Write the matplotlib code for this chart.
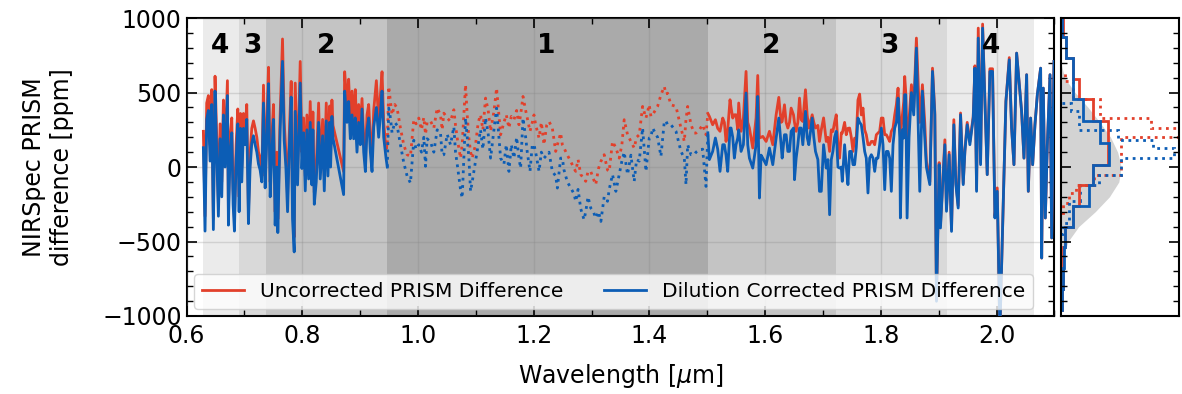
import numpy as np
import matplotlib
matplotlib.use('Agg')
import matplotlib.pyplot as plt
from matplotlib.ticker import MultipleLocator

# wavelength [um] and the two difference spectra [ppm]
wave = [0.6291, 0.6320, 0.6349, 0.6378, 0.6407, 0.6436, 0.6464, 0.6493, 0.6522, 0.6551,
        0.6580, 0.6609, 0.6638, 0.6666, 0.6707, 0.6724, 0.6753, 0.6782, 0.6805, 0.6828,
        0.6857, 0.6886, 0.6909, 0.6932, 0.6955, 0.6984, 0.7013, 0.7041, 0.7070, 0.7099,
        0.7128, 0.7157, 0.7186, 0.7215, 0.7244, 0.7272, 0.7301, 0.7330, 0.7359, 0.7388,
        0.7417, 0.7446, 0.7475, 0.7503, 0.7532, 0.7561, 0.7578, 0.7618, 0.7659, 0.7688,
        0.7717, 0.7746, 0.7774, 0.7809, 0.7832, 0.7861, 0.7879, 0.7919, 0.7965, 0.7994,
        0.8023, 0.8052, 0.8081, 0.8110, 0.8138, 0.8167, 0.8184, 0.8208, 0.8242, 0.8283,
        0.8311, 0.8352, 0.8381, 0.8415, 0.8444, 0.8473, 0.8490, 0.8513, 0.8531, 0.8715,
        0.8733, 0.8773, 0.8802, 0.8831, 0.8860, 0.8889, 0.8917, 0.8946, 0.8975, 0.9004,
        0.9033, 0.9062, 0.9091, 0.9119, 0.9148, 0.9177, 0.9206, 0.9235, 0.9281, 0.9321,
        0.9350, 0.9379, 0.9408, 0.9448, 0.9470,
        # region 1
        0.9495, 0.9524, 0.9552, 0.9599, 0.9639, 0.9697, 0.9754, 0.9812, 0.9870, 0.9928,
        0.9968, 1.0014, 1.0060, 1.0101, 1.0130, 1.0158, 1.0216, 1.0274, 1.0332, 1.0389,
        1.0418, 1.0447, 1.0505, 1.0562, 1.0620, 1.0649, 1.0678, 1.0735, 1.0764, 1.0822,
        1.0851, 1.0880, 1.0909, 1.0937, 1.0995, 1.1041, 1.1081, 1.1122, 1.1168, 1.1214,
        1.1255, 1.1313, 1.1359, 1.1428, 1.1486, 1.1526, 1.1572, 1.1613, 1.1659, 1.1705,
        1.1745, 1.1774, 1.1815, 1.1861, 1.1889, 1.1936, 1.1976, 1.2005, 1.2034, 1.2092,
        1.2132, 1.2178, 1.2224, 1.2265, 1.2322, 1.2380, 1.2409, 1.2466, 1.2495, 1.2524,
        1.2582, 1.2640, 1.2697, 1.2726, 1.2767, 1.2813, 1.2870, 1.2899, 1.2939, 1.2986,
        1.3032, 1.3072, 1.3120, 1.3161, 1.3218, 1.3276, 1.3305, 1.3362, 1.3420, 1.3478,
        1.3524, 1.3564, 1.3622, 1.3680, 1.3737, 1.3778, 1.3824, 1.3882, 1.3940, 1.3997,
        1.4026, 1.4055, 1.4141, 1.4199, 1.4257, 1.4285, 1.4314, 1.4372, 1.4459, 1.4545,
        1.4603, 1.4632, 1.4661, 1.4718, 1.4776, 1.4805, 1.4863, 1.4920, 1.4978, 1.5010,
        # right side
        1.5036, 1.5093, 1.5140, 1.5180, 1.5220, 1.5267, 1.5295, 1.5324, 1.5353, 1.5393,
        1.5411, 1.5440, 1.5468, 1.5497, 1.5526, 1.5543, 1.5584, 1.5624, 1.5670, 1.5699,
        1.5728, 1.5786, 1.5843, 1.5872, 1.5901, 1.5930, 1.5959, 1.6017, 1.6074, 1.6132,
        1.6190, 1.6236, 1.6276, 1.6294, 1.6334, 1.6363, 1.6392, 1.6421, 1.6449, 1.6490,
        1.6507, 1.6536, 1.6565, 1.6594, 1.6622, 1.6651, 1.6697, 1.6726, 1.6755, 1.6813,
        1.6841, 1.6870, 1.6911, 1.6939, 1.6970, 1.7010, 1.7056, 1.7085, 1.7114, 1.7143,
        1.7171, 1.7200, 1.7229, 1.7258, 1.7287, 1.7316, 1.7333, 1.7373, 1.7402, 1.7431,
        1.7460, 1.7489, 1.7518, 1.7546, 1.7575, 1.7604, 1.7633, 1.7662, 1.7691, 1.7720,
        1.7748, 1.7777, 1.7806, 1.7835, 1.7864, 1.7893, 1.7922, 1.7950, 1.7979, 1.8008,
        1.8037, 1.8066, 1.8095, 1.8124, 1.8152, 1.8181, 1.8210, 1.8239, 1.8268, 1.8297,
        1.8326, 1.8337, 1.8372, 1.8395, 1.8412, 1.8430, 1.8453, 1.8487, 1.8528, 1.8568,
        1.8614, 1.8672, 1.8718, 1.8758, 1.8787, 1.8846, 1.8892, 1.8932, 1.8961, 1.9007,
        1.9030, 1.9065, 1.9106, 1.9134, 1.9180, 1.9221, 1.9261, 1.9296, 1.9336, 1.9377,
        1.9423, 1.9452, 1.9492, 1.9538, 1.9596, 1.9625, 1.9654, 1.9683, 1.9723, 1.9758,
        1.9798, 1.9838, 1.9884, 1.9930, 1.9971, 2.0011, 2.0057, 2.0115, 2.0161, 2.0219,
        2.0259, 2.0300, 2.0346, 2.0392, 2.0432, 2.0473, 2.0519, 2.0548, 2.0588, 2.0623,
        2.0663, 2.0704, 2.0761, 2.0779, 2.0807, 2.0842, 2.0877, 2.0923, 2.0952, 2.0992]

uncorrected = [240, -330, 430, 480, 150, 520, -350, 610, 200, -250,
               290, -100, 450, 100, 580, -300, 200, 330, -150, -350,
               150, 390, -200, 360, 0, 360, 250, 420, -300, 100,
               260, 310, 260, 200, 100, 60, -60, 550, -60, 300,
               670, -100, 200, 420, -300, 100, -350, 350, 860, 300,
               100, -200, 200, 575, -250, -470, 564, -30, 709, 100,
               330, -60, 350, 20, 440, -20, 370, -170, 0, 430,
               10, 320, -60, 430, 40, 410, 100, 450, 280, -30,
               640, 420, 590, 300, 510, 300, 520, 200, 420, 250,
               460, 200, 60, 350, 420, 200, 70, 380, 580, 300,
               480, 640, 300, 120, 160,
               541, 441, 351, 420, 396, 262, 150, 83, 72, 318,
               290, 329, 250, 333, 220, 300, 310, 262, 396, 351,
               250, 362, 329, 306, 385, 280, 195, 60, 150, 553,
               350, 195, 100, 60, 150, 300, 351, 250, 463, 380,
               240, 374, 530, 217, 300, 351, 262, 340, 318, 380,
               284, 350, 474, 380, 329, 240, 300, 350, 284, 195,
               300, 150, 280, 306, 262, 105, 150, 228, 150, 128,
               80, 38, -10, -29, 50, -50, -80, -96, -30, -29,
               -80, -118, -10, 38, 83, -20, -29, 172, 130, 60,
               150, 318, 217, 172, 128, 200, 217, 407, 329, 418,
               340, 351, 407, 485, 541, 490, 496, 418, 407, 262,
               172, 320, 407, 284, 228, 228, 250, 284, 217, 360,
               340, 284, 318, 260, 240, 329, 300, 172, 250, 452,
               400, 329, 351, 351, 250, 430, 240, 329, 642, 300,
               262, 128, 329, 615, 195, 200, 206, 172, 240, 150,
               351, 468, 300, 306, 418, 300, 262, 300, 396, 351,
               300, 240, 300, 463, 318, 306, 519, 350, 262, 351,
               300, 262, 280, 172, 250, 330, 172, 200, 105, 250,
               239, 300, 351, 150, 60, 230, 228, 300, 217, 260,
               262, 200, 105, 194, 195, 450, 490, 350, 396, 250,
               217, 150, 150, 172, 172, 150, 217, 228, 240, 329,
               329, 217, 217, 195, 172, 240, 262, 350, 420, 530,
               300, 200, 350, 440, 608, 500, 150, 320, 553, 400,
               866, 300, 553, 300, 38, -100, 664, 370, -890, 30,
               -390, -130, 183, -280, 100, -420, 318, -100, -260, 363,
               -110, 110, 300, 170, 340, 680, -150, 933, 30, 960,
               450, -50, 660, 660, -330, -140, -1100, -240, 441, 735,
               270, 16, 765, 553, 374, 60, 620, -163, 329, 16,
               284, 486, 664, -611, 530, -342, 150, 620, -476, 709]

corrected = [130, -430, 320, 380, 40, 420, -420, 510, 90, -330,
             190, -200, 350, 0, 480, -390, 100, 230, -250, -430,
             50, 290, -300, 260, -100, 260, 150, 320, -380, 0,
             160, 210, 150, 100, 20, -20, -100, 430, -140, 200,
             560, -200, 100, 320, -390, 0, -440, 250, 710, 180,
             0, -300, 100, 470, -350, -570, 374, -120, 564, -10,
             230, -160, 250, -80, 300, -120, 250, -250, -100, 300,
             -80, 210, -160, 310, -60, 300, 0, 340, 195, -185,
             510, 300, 440, 190, 350, 190, 330, 100, 300, 150,
             390, 100, -30, 250, 330, 100, -30, 270, 400, 200,
             350, 510, 200, 60, 0,
             396, 330, 230, 300, 280, 150, 30, -60, -107, 180,
             120, 150, 100, 200, 5, 190, 170, 100, 250, 230,
             80, 83, 220, 150, 270, 100, 20, -150, -208, 329,
             200, 60, -163, -100, 40, 150, 250, 120, 330, 220,
             60, 250, 396, 60, 20, 150, -29, 150, 60, 200,
             60, -7, 329, 200, 100, -29, 150, 150, 100, -29,
             100, 60, 80, 100, -29, -60, -141, 60, 60, -20,
             -100, -140, -180, -230, -150, -280, -353, -300, -200, -275,
             -300, -342, -300, -365, -200, -230, -150, -50, -163, -50,
             40, 100, -50, 80, -96, 50, 40, 262, -29, 195,
             200, 262, 200, 72, 306, 310, 284, 284, 240, 105,
             60, -118, 150, 83, 83, 100, 116, 120, -130, 230,
             50, 105, 195, 120, -29, 150, 150, 80, -29, 262,
             262, 200, 60, 150, 195, 250, 105, 150, 497, 150,
             60, -7, 150, 474, -208, 80, 60, 16, 128, 16,
             195, 329, 150, 60, 217, 217, 105, 105, 240, 262,
             -85, 60, 150, 262, 262, 150, 374, 200, 150, 329,
             200, 105, 50, -163, -163, 150, -7, 50, -320, 50,
             105, 200, 240, 0, -7, 0, -96, 150, 0, -118,
             105, 105, 16, 16, 130, 329, 300, 284, 200, 105,
             60, -174, 60, 83, 60, -29, 60, 60, 150, 262,
             150, -152, 105, 105, 60, -163, 150, 262, 300, 463,
             200, -342, 250, 195, 486, 486, -342, 200, 500, 350,
             799, -163, 510, 200, 0, -118, 642, 351, -901, 16,
             -409, -141, 150, -297, 83, -432, 284, -118, -275, 351,
             -118, 105, 284, 150, 329, 664, -163, 866, 16, 933,
             441, -51, 642, 642, -342, -163, -1100, -253, 441, 720,
             262, 16, 765, 553, 374, 60, 620, -163, 329, 16,
             284, 486, 664, -611, 530, -342, 150, 620, -476, 709]

# wavelength regions (4 outermost ... 1 innermost) and their labels
region_left = [0.629, 0.691, 0.738, 0.947]
region_right = [2.065, 1.915, 1.723, 1.502]
region_names = ['4', '3', '2', '1', '2', '3', '4']
label_x = [0.657, 0.714, 0.842, 1.222, 1.61, 1.815, 1.99]

# right panel: step histograms (fraction of panel width) and reference gaussian
hist_edges = [-960, -820, -680, -540, -400, -264, -118, 17, 163, 309, 455, 589, 735, 870, 1010]
hist_uncorr = [0.01, 0.015, 0.02, 0.03, 0.10, 0.156, 0.27, 0.40, 0.40, 0.27, 0.156, 0.10, 0.04, 0.02]
hist_corr = [0.01, 0.015, 0.025, 0.035, 0.10, 0.235, 0.27, 0.41, 0.33, 0.19, 0.10, 0.10, 0.04, 0.01]
r1_edges_uncorr = [-309, -241, -174, -118, -51, 203, 264, 331, 455, 578, 634]
r1_hist_uncorr = [0.015, 0.07, 0.13, 0.28, 0.51, 1.1, 0.76, 0.33, 0.1, 0.03]
r1_edges_corr = [-450, -376, -230, -118, -51, 62, 129, 185, 252, 376, 432]
r1_hist_corr = [0.015, 0.07, 0.16, 0.325, 0.51, 0.96, 0.78, 0.48, 0.155, 0.085]
gauss_ppm = [-700, -600, -500, -400, -300, -200, -100, 0, 100, 200, 300, 400, 500, 600, 700]
gauss_width = [0.0, 0.02, 0.06, 0.15, 0.29, 0.41, 0.49, 0.51, 0.48, 0.42, 0.33, 0.23, 0.12, 0.03, 0.0]

red = '#E2402B'
blue = '#0C5DB5'
band_colors = ['#ebebeb', '#d9d9d9', '#c4c4c4', '#aaaaaa']

plt.rcParams['font.family'] = 'DejaVu Sans'
plt.rcParams['xtick.direction'] = 'in'
plt.rcParams['ytick.direction'] = 'in'

fig = plt.figure(figsize=(11.82, 3.94), dpi=100)
ax = fig.add_axes([0.1578, 0.198, 0.7343, 0.756])
axh = fig.add_axes([0.8976, 0.198, 0.0999, 0.756], sharey=ax)

# shaded regions, nested from outer to inner
for lo, hi, c in zip(region_left, region_right, band_colors):
    ax.axvspan(lo, hi, color=c, lw=0, zorder=0)

w = np.array(wave)
ru = np.array(uncorrected, dtype=float)
bc = np.array(corrected, dtype=float)
r1 = (w >= 0.946) & (w <= 1.502)
left = w <= 0.9471
right = w >= 1.5009

for m in (left, right):
    ax.plot(w[m], ru[m], color=red, lw=2, zorder=3)
    ax.plot(w[m], bc[m], color=blue, lw=2, zorder=4)
ax.plot(w[r1], ru[r1], color=red, lw=2, ls=':', zorder=3)
ax.plot(w[r1], bc[r1], color=blue, lw=2, ls=':', zorder=4)

for name, x in zip(region_names, label_x):
    ax.text(x, 810, name, ha='center', va='center', fontsize=19, fontweight='bold', zorder=6)

ax.plot([], [], color=red, lw=2, label='Uncorrected PRISM Difference')
ax.plot([], [], color=blue, lw=2, label='Dilution Corrected PRISM Difference')
leg = ax.legend(loc='lower left', ncol=2, fontsize=14.5, columnspacing=2.0,
                handlelength=2.1, framealpha=0.8, borderaxespad=0.35)
leg.set_zorder(7)

ax.set_xlim(0.6, 2.1)
ax.set_ylim(-1000, 1000)
ax.xaxis.set_major_locator(MultipleLocator(0.2))
ax.xaxis.set_minor_locator(MultipleLocator(0.1))
ax.yaxis.set_major_locator(MultipleLocator(500))
ax.yaxis.set_minor_locator(MultipleLocator(100))
ax.grid(True, which='major', color='gray', alpha=0.25, lw=1, zorder=1)
ax.set_axisbelow(False)
ax.tick_params(which='both', top=True, right=True, labelsize=17)
ax.tick_params(axis='x', pad=6)
ax.tick_params(which='major', length=7, width=1.2)
ax.tick_params(which='minor', length=4, width=1)
ax.set_xlabel(r'Wavelength [$\mu$m]', fontsize=17, labelpad=10)
ax.set_ylabel('NIRSpec PRISM\ndifference [ppm]', fontsize=17, labelpad=20)
for s in ax.spines.values():
    s.set_linewidth(1.5)

# histogram panel
axh.fill_betweenx(gauss_ppm, 0, gauss_width, color='#d3d3d3', lw=0)
axh.stairs(r1_hist_uncorr, r1_edges_uncorr, orientation='horizontal', color=red, lw=2, ls=':')
axh.stairs(r1_hist_corr, r1_edges_corr, orientation='horizontal', color=blue, lw=2, ls=':')
axh.stairs(hist_uncorr, hist_edges, orientation='horizontal', color=red, lw=2)
axh.stairs(hist_corr, hist_edges, orientation='horizontal', color=blue, lw=2)
axh.set_xlim(0, 1)
axh.set_xticks([])
axh.tick_params(which='both', left=True, right=True, labelleft=False)
axh.tick_params(which='major', length=7, width=1.2)
axh.tick_params(which='minor', length=4, width=1)
for s in axh.spines.values():
    s.set_linewidth(1.5)

fig.savefig('out.png', dpi=100)
